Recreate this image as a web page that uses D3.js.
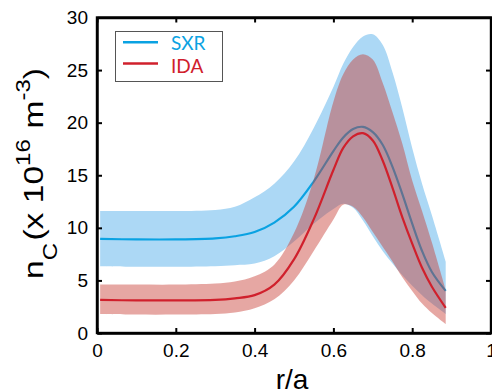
<!DOCTYPE html>
<html><head><meta charset="utf-8">
<script src="https://cdn.jsdelivr.net/npm/d3@7"></script>
<style>html,body{margin:0;padding:0;background:#fff;overflow:hidden}</style>
</head><body><svg id="c" width="492" height="390"></svg>
<script>
// Data
const r = [0.008,0.1,0.2,0.3,0.35,0.4,0.45,0.5,0.55,0.6,0.625,0.65,0.675,0.7,0.725,0.75,0.775,0.8,0.825,0.85,0.885];
const sxrMid   = [8.95,8.9,8.9,9.0,9.2,9.6,10.5,12.0,14.4,17.3,18.6,19.4,19.6,19.1,17.9,15.8,13.2,10.4,7.8,5.8,4.0];
const sxrUpper = [11.6,11.6,11.6,11.7,12.0,12.9,14.2,16.3,19.5,23.4,25.6,27.2,28.2,28.4,27.4,24.8,21.4,17.6,14.2,11.2,6.8];
const sxrLower = [6.35,6.3,6.3,6.35,6.45,6.6,7.3,8.7,10.4,11.8,12.3,11.9,10.7,9.2,7.8,6.6,5.5,4.5,3.6,2.8,1.8];
const idaMid   = [3.15,3.1,3.1,3.15,3.3,3.6,4.6,7.0,10.8,15.5,17.6,18.7,19.0,18.3,16.4,13.8,11.0,8.5,6.2,4.4,2.4];
const idaUpper = [4.6,4.6,4.6,4.7,4.9,5.4,6.5,9.5,14.6,22.0,24.6,26.0,26.5,26.0,23.8,21.0,18.0,14.5,11.6,8.6,4.1];
const idaLower = [1.8,1.75,1.75,1.8,1.95,2.35,3.2,5.0,7.8,10.8,12.2,12.0,11.0,9.6,8.2,6.8,5.3,4.0,2.8,1.9,0.85];
const xTicks = [0,0.2,0.4,0.6,0.8,1];
const xTickLabels = ["0","0.2","0.4","0.6","0.8","1"];
const yTicks = [0,5,10,15,20,25,30];
const seriesNames = ["SXR","IDA"];

const svg = d3.select("#c");
const L=97, R=491, T=17.5, B=333;
const x = d3.scaleLinear().domain([0,1]).range([L,R]);
const y = d3.scaleLinear().domain([0,30]).range([B,T]);
const font = "'Liberation Sans', Arial, Helvetica, sans-serif";

const curve = d3.curveCatmullRom.alpha(0.5);
const area = (lo,hi) => d3.area().curve(curve).x((d,i)=>x(r[i])).y0((d,i)=>y(lo[i])).y1((d,i)=>y(hi[i]))(r);
const line = (v) => d3.line().curve(curve).x((d,i)=>x(r[i])).y((d,i)=>y(v[i]))(r);

const cSXR="#0aa2e2", cIDA="#d0202c";
svg.append("path").attr("d",area(sxrLower,sxrUpper)).attr("fill","#acd8f5");
svg.append("path").attr("d",line(sxrMid)).attr("fill","none").attr("stroke",cSXR).attr("stroke-width",2.2);
svg.append("path").attr("d",area(idaLower,idaUpper)).attr("fill","rgb(200,60,50)").attr("fill-opacity",0.45);
svg.append("path").attr("d",line(idaMid)).attr("fill","none").attr("stroke",cIDA).attr("stroke-width",2.2);

// axes
const tickLen=5, aw=2.4;
const gB = svg.append("g").attr("transform",`translate(0,${B})`)
  .call(d3.axisBottom(x).tickValues(xTicks).tickFormat((d,i)=>xTickLabels[i]).tickSizeInner(-tickLen).tickSizeOuter(0).tickPadding(10));
const gT = svg.append("g").attr("transform",`translate(0,${T})`)
  .call(d3.axisTop(x).tickValues(xTicks).tickFormat("").tickSizeInner(-tickLen).tickSizeOuter(0));
const gL = svg.append("g").attr("transform",`translate(${L},0)`)
  .call(d3.axisLeft(y).tickValues(yTicks).tickSizeInner(-tickLen).tickSizeOuter(0).tickPadding(9));
const gR = svg.append("g").attr("transform",`translate(${R},0)`)
  .call(d3.axisRight(y).tickValues(yTicks).tickFormat("").tickSizeInner(-tickLen).tickSizeOuter(0));
[gB,gT,gL,gR].forEach(g=>{
  g.select(".domain").attr("stroke","#000").attr("stroke-width",aw);
  g.selectAll(".tick line").attr("stroke","#000").attr("stroke-width",2);
  g.selectAll("text").attr("font-family",font).attr("font-size",19).attr("fill","#000");
});
gB.selectAll(".tick text").attr("dy","0.75em");
svg.append("rect").attr("x",L).attr("y",T).attr("width",R-L).attr("height",B-T)
  .attr("fill","none").attr("stroke","#000").attr("stroke-width",aw);

// legend
const lg = svg.append("g");
lg.append("rect").attr("x",115.5).attr("y",31.5).attr("width",107).attr("height",50)
  .attr("fill","#fff").attr("stroke","#555").attr("stroke-width",1);
[[cSXR,42.3,50],[cIDA,63.5,73]].forEach((c,i)=>{
  lg.append("line").attr("x1",123).attr("x2",158).attr("y1",c[1]).attr("y2",c[1]).attr("stroke",c[0]).attr("stroke-width",2.5);
  lg.append("text").attr("x",171).attr("y",c[2]).attr("fill",c[0]).attr("font-family","Lato, 'Open Sans', sans-serif")
    .attr("font-size",19).text(seriesNames[i]);
});

// axis titles
svg.append("text").attr("x",292).attr("y",389).attr("text-anchor","middle")
  .attr("font-family",font).attr("font-size",28).text("r/a");
const yt = svg.append("text").attr("transform","translate(43,279) rotate(-90) scale(1.2,1)")
  .attr("font-family",font).attr("font-size",28);
yt.append("tspan").text("n");
yt.append("tspan").attr("font-size",20).attr("dy",14).text("C");
yt.append("tspan").attr("dy",-14).attr("dx",2).text("(x 10");
yt.append("tspan").attr("font-size",20).attr("dy",-13).text("16");
yt.append("tspan").attr("dy",13).attr("dx",9).text("m");
yt.append("tspan").attr("font-size",20).attr("dy",-13).text("-3");
yt.append("tspan").attr("dy",13).text(")");
</script></body></html>
